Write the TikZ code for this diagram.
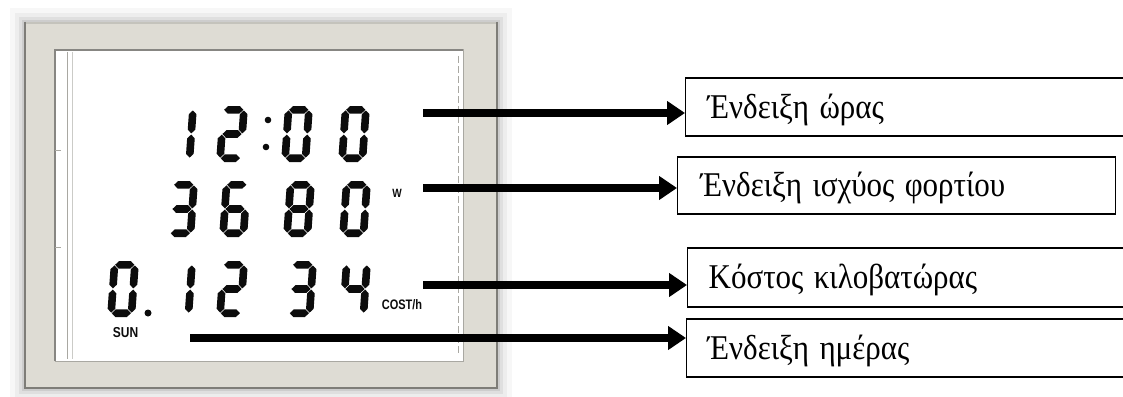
\documentclass[tikz,border=0pt]{standalone}
\usepackage{graphicx}
\usepackage{fontspec}
\setmainfont{Liberation Serif}
\newfontfamily\lcdsans{Liberation Sans}
\usetikzlibrary{arrows.meta}
\definecolor{framecol}{HTML}{DEDCD4}
\definecolor{frameedge}{HTML}{7E7D78}
\definecolor{frametop}{HTML}{C4C3BC}
\definecolor{lcdline}{HTML}{A9A8A2}
\definecolor{lcdink}{HTML}{0C0C0C}
\def\lcdW{28}\def\lcdHt{56}\def\lcdh{3.8}\def\lcdg{0.6}
\newcommand\lcdHseg[3]{\fill[lcdink] (#1,#3) -- (#1+\lcdh,#3-\lcdh) -- (#2-\lcdh,#3-\lcdh) -- (#2,#3) -- (#2-\lcdh,#3+\lcdh) -- (#1+\lcdh,#3+\lcdh) -- cycle;}
\newcommand\lcdVseg[3]{\fill[lcdink] (#1,#2) -- (#1+\lcdh,#2+\lcdh) -- (#1+\lcdh,#3-\lcdh) -- (#1,#3) -- (#1-\lcdh,#3-\lcdh) -- (#1-\lcdh,#2+\lcdh) -- cycle;}
\def\lcdSa{\lcdHseg{\lcdh+\lcdg}{\lcdW-\lcdh-\lcdg}{\lcdh}}
\def\lcdSb{\lcdVseg{\lcdW-\lcdh}{\lcdh+\lcdg}{\lcdHt/2-\lcdg}}
\def\lcdSc{\lcdVseg{\lcdW-\lcdh}{\lcdHt/2+\lcdg}{\lcdHt-\lcdh-\lcdg}}
\def\lcdSd{\lcdHseg{\lcdh+\lcdg}{\lcdW-\lcdh-\lcdg}{\lcdHt-\lcdh}}
\def\lcdSe{\lcdVseg{\lcdh}{\lcdHt/2+\lcdg}{\lcdHt-\lcdh-\lcdg}}
\def\lcdSf{\lcdVseg{\lcdh}{\lcdh+\lcdg}{\lcdHt/2-\lcdg}}
\def\lcdSg{\lcdHseg{\lcdh+\lcdg}{\lcdW-\lcdh-\lcdg}{\lcdHt/2}}
\newcommand\lcdDigit[3]{\begin{scope}[shift={(#1,#2)},xslant=0.07]\foreach \s in {#3}{\csname lcdS\s\endcsname}\end{scope}}
\newcommand\tallText[1]{\scalebox{1}[1.12]{#1}}
\tikzset{
  bigarrow/.style={line width=8.5pt, -{Triangle[length=18pt,width=23pt]}},
  labelbox/.style={draw, line width=1.3pt, anchor=west, align=left, inner ysep=0pt,
    text height=29pt, text depth=7pt, font=\fontsize{31}{36}\selectfont},
  lcdlbl/.style={inner sep=0pt, text=lcdink}
}
\begin{document}
\begin{tikzpicture}[x=1pt,y=-1pt]
\useasboundingbox[fill=white] (0,0) rectangle (1123,396);
% shadow
\foreach \d/\o in {14/0.03,9/0.04,5/0.06,2/0.08}
  \fill[black,opacity=\o] (24-\d,22-\d) rectangle (498+\d,389+\d);
% frame
\fill[framecol] (24,22) rectangle (498,389);
\draw[frametop,line width=2pt] (24,23) -- (498,23);
\draw[frameedge,line width=2.2pt] (25,22) -- (25,389);
\draw[frameedge,line width=2.2pt] (497,22) -- (497,389);
\draw[frameedge,line width=2.2pt] (24,388) -- (498,388);
% LCD
\fill[white] (55,50) rectangle (463,361);
\draw[lcdline,line width=1pt] (55,50) rectangle (463,361);
\draw[lcdline!80!black,line width=1.5pt] (55,361) -- (55,50) -- (463,50);
\draw[lcdline,line width=0.9pt] (67,52) -- (67,359);
\draw[lcdline!60,line width=0.8pt] (72,52) -- (72,359);
\draw[lcdline,line width=0.9pt,dash pattern=on 7pt off 3pt] (458,56) -- (458,355);
\draw[lcdline,line width=0.8pt] (55,150) -- (61,150);
\draw[lcdline,line width=0.8pt] (55,247) -- (61,247);
% row 1: 12:00
\lcdDigit{169}{106}{b,c}
\lcdDigit{220}{106}{a,b,g,e,d}
\fill[lcdink] (268,120) circle (3.3);
\fill[lcdink] (266,147) circle (3.3);
\lcdDigit{285}{106}{a,b,c,d,e,f}
\lcdDigit{342}{106}{a,b,c,d,e,f}
% row 2: 3680
\lcdDigit{170}{181}{a,b,g,c,d}
\lcdDigit{223}{181}{a,f,g,e,d,c}
\lcdDigit{287}{181}{a,b,c,d,e,f,g}
\lcdDigit{343}{181}{a,b,c,d,e,f}
\node[lcdlbl,font=\lcdsans\bfseries\fontsize{10}{10}\selectfont] (w) at (397,193) {\scalebox{1}[1.2]{W}};
% row 3: 0.1234
\lcdDigit{111}{261}{a,b,c,d,e,f}
\fill[lcdink] (148,313) circle (3.5);
\lcdDigit{168}{261}{b,c}
\lcdDigit{220}{261}{a,b,g,e,d}
\lcdDigit{289}{261}{a,b,g,c,d}
\lcdDigit{343}{261}{b,c,f,g}
\node[lcdlbl,font=\lcdsans\bfseries\fontsize{11}{11}\selectfont] (cost) at (402,305) {\scalebox{1}[1.25]{COST/h}};
\node[lcdlbl,font=\lcdsans\bfseries\fontsize{12}{12}\selectfont] (sun) at (125.5,333) {\scalebox{1}[1.2]{SUN}};
% label boxes
\node[labelbox, inner xsep=22pt, text width=396pt, minimum height=58pt] (b1) at (685,107) {\tallText{Ένδειξη ώρας}};
\node[labelbox, inner xsep=23pt, text width=392pt, minimum height=57pt] (b2) at (677,185.5) {\tallText{Ένδειξη ισχύος φορτίου}};
\node[labelbox, inner xsep=21pt, text width=396pt, minimum height=59pt] (b3) at (687,277.5) {\tallText{Κόστος κιλοβατώρας}};
\node[labelbox, inner xsep=21pt, text width=397pt, minimum height=58pt] (b4) at (686,348) {\tallText{Ένδειξη ημέρας}};
% arrows
\coordinate (t1) at (423,113);
\coordinate (t2) at (423,188);
\coordinate (t3) at (423,285);
\coordinate (t4) at (190,338);
\draw[bigarrow] (t1) -- (t1 -| b1.west);
\draw[bigarrow] (t2) -- (t2 -| b2.west);
\draw[bigarrow] (t3) -- (t3 -| b3.west);
\draw[bigarrow] (t4) -- (t4 -| b4.west);
\end{tikzpicture}
\end{document}
